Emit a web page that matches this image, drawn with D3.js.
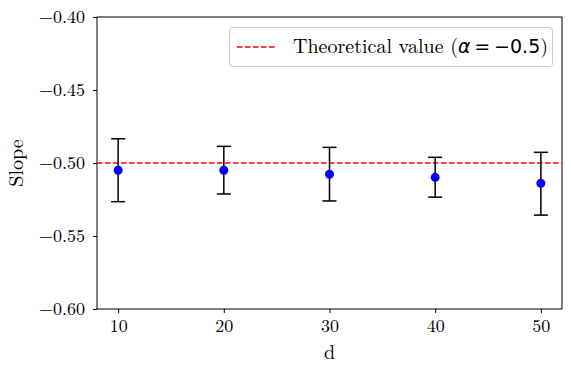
<!DOCTYPE html>
<html><head><meta charset="utf-8">
<script src="https://cdn.jsdelivr.net/npm/d3@7"></script>
<style>body{margin:0;background:#fff}svg{display:block}</style>
</head><body>
<svg id="c" width="571" height="372"></svg>
<script>
const dValues = [10, 20, 30, 40, 50];
const slopes = [-0.505, -0.505, -0.5077, -0.5098, -0.5139];
const errLow = [-0.5265, -0.5212, -0.526, -0.5234, -0.5357];
const errHigh = [-0.4834, -0.4886, -0.4893, -0.4961, -0.4927];
const yTicks = [-0.60, -0.55, -0.50, -0.45, -0.40];
const xTicks = [10, 20, 30, 40, 50];
const theoretical = -0.5;

const svg = d3.select('#c');
const L = 97, R = 562, T = 17, B = 309;
const x = d3.scaleLinear().domain([8, 52]).range([L, R]);
const y = d3.scaleLinear().domain([-0.6, -0.4]).range([B, T]);
const serif = "'Latin Modern Roman','CMU Serif','Liberation Serif','DejaVu Serif',serif";
const minus = v => (v < 0 ? '\u2212' : '') + Math.abs(v).toFixed(2);

// frame
svg.append('rect').attr('x', L).attr('y', T).attr('width', R - L).attr('height', B - T)
  .attr('fill', 'none').attr('stroke', '#000').attr('stroke-width', 1);

const xa = svg.append('g').attr('transform', `translate(0,${B})`)
  .call(d3.axisBottom(x).tickValues(xTicks).tickSize(4).tickPadding(5).tickFormat(d3.format('d')));
const ya = svg.append('g').attr('transform', `translate(${L},0)`)
  .call(d3.axisLeft(y).tickValues(yTicks).tickSize(4).tickPadding(8).tickFormat(minus));
[xa, ya].forEach(a => {
  a.select('.domain').remove();
  a.selectAll('text').attr('font-family', serif).attr('font-size', 18).attr('fill', '#000');
});
xa.selectAll('text').attr('dy', '0.78em');

svg.append('text').attr('x', (L + R) / 2).attr('y', 359).attr('text-anchor', 'middle')
  .attr('font-family', serif).attr('font-size', 20).text('d');
svg.append('text').attr('transform', `translate(23,${(T + B) / 2}) rotate(-90)`)
  .attr('text-anchor', 'middle').attr('font-family', serif).attr('font-size', 20).text('Slope');

// theoretical line
svg.append('line').attr('x1', L).attr('x2', R).attr('y1', y(theoretical)).attr('y2', y(theoretical))
  .attr('stroke', '#ff0000').attr('stroke-width', 1.5).attr('stroke-dasharray', '5.5,2.5');

// error bars
const data = dValues.map((d, i) => ({d, s: slopes[i], lo: errLow[i], hi: errHigh[i]}));
const g = svg.append('g');
data.forEach(p => {
  g.append('line').attr('x1', x(p.d)).attr('x2', x(p.d)).attr('y1', y(p.lo)).attr('y2', y(p.hi))
    .attr('stroke', '#000').attr('stroke-width', 1.5);
  [p.lo, p.hi].forEach(v => g.append('line').attr('x1', x(p.d) - 7).attr('x2', x(p.d) + 7)
    .attr('y1', y(v)).attr('y2', y(v)).attr('stroke', '#000').attr('stroke-width', 1.5));
});
g.selectAll('circle').data(data).join('circle')
  .attr('cx', p => x(p.d)).attr('cy', p => y(p.s)).attr('r', 4.5).attr('fill', '#0000ff');

// legend
const lg = svg.append('g');
lg.append('rect').attr('x', 229.5).attr('y', 27.5).attr('width', 323).attr('height', 39).attr('rx', 3)
  .attr('fill', '#fff').attr('fill-opacity', 0.8).attr('stroke', '#ccc').attr('stroke-width', 1);
lg.append('line').attr('x1', 237).attr('x2', 275).attr('y1', 47).attr('y2', 47)
  .attr('stroke', '#ff0000').attr('stroke-width', 1.5).attr('stroke-dasharray', '5.5,2.5');
const t = lg.append('text').attr('x', 293).attr('y', 53).attr('font-size', 20).attr('font-family', serif);
t.append('tspan').text('Theoretical value (');
t.append('tspan').attr('font-family', 'DejaVu Sans').attr('font-size', 19).attr('font-style', 'italic').text('\u03b1');
t.append('tspan').attr('font-family', 'DejaVu Sans').attr('font-size', 19).text('\u2009=\u2009\u22120.5');
t.append('tspan').text(')');
</script>
</body></html>
